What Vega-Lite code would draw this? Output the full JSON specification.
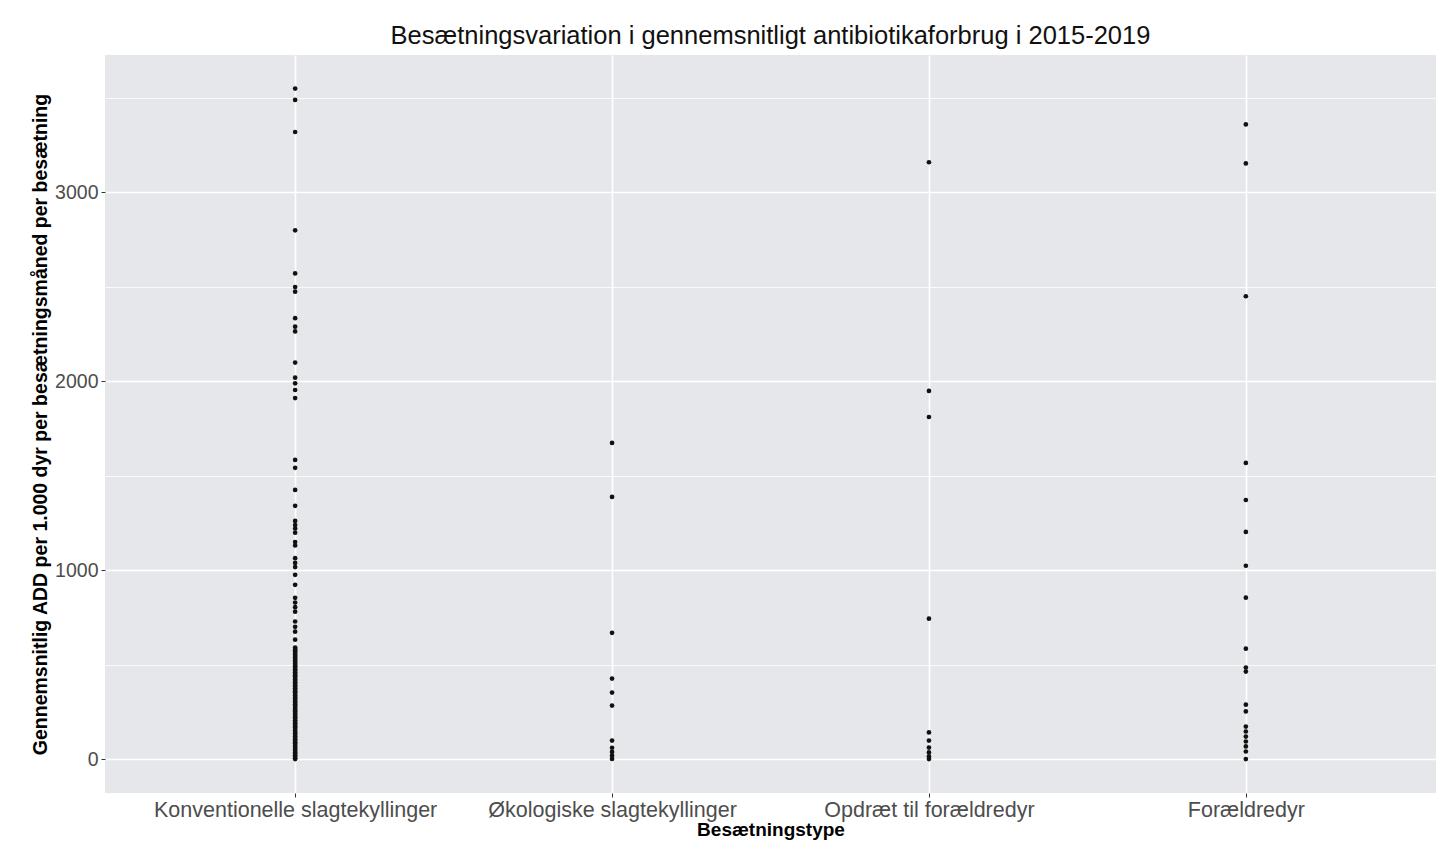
{
  "$schema": "https://vega.github.io/schema/vega-lite/v6.json",
  "autosize": "none",
  "width": 1331,
  "height": 738,
  "padding": {"left": 105, "top": 55, "right": 12, "bottom": 50},
  "background": "white",
  "title": {
    "text": "Besætningsvariation i gennemsnitligt antibiotikaforbrug i 2015-2019",
    "fontSize": 25.5,
    "fontWeight": "normal",
    "font": "Liberation Sans",
    "color": "#111111",
    "anchor": "middle",
    "offset": 6
  },
  "config": {
    "view": {"fill": "#E5E7EB", "stroke": null},
    "font": "Liberation Sans"
  },
  "data": {
    "values": [
      {"type": "Konventionelle slagtekyllinger", "add": 3550},
      {"type": "Konventionelle slagtekyllinger", "add": 3490},
      {"type": "Konventionelle slagtekyllinger", "add": 3320},
      {"type": "Konventionelle slagtekyllinger", "add": 2800},
      {"type": "Konventionelle slagtekyllinger", "add": 2572},
      {"type": "Konventionelle slagtekyllinger", "add": 2500},
      {"type": "Konventionelle slagtekyllinger", "add": 2475},
      {"type": "Konventionelle slagtekyllinger", "add": 2335},
      {"type": "Konventionelle slagtekyllinger", "add": 2290},
      {"type": "Konventionelle slagtekyllinger", "add": 2265},
      {"type": "Konventionelle slagtekyllinger", "add": 2100},
      {"type": "Konventionelle slagtekyllinger", "add": 2020},
      {"type": "Konventionelle slagtekyllinger", "add": 1990},
      {"type": "Konventionelle slagtekyllinger", "add": 1955},
      {"type": "Konventionelle slagtekyllinger", "add": 1912},
      {"type": "Konventionelle slagtekyllinger", "add": 1585},
      {"type": "Konventionelle slagtekyllinger", "add": 1543},
      {"type": "Konventionelle slagtekyllinger", "add": 1426},
      {"type": "Konventionelle slagtekyllinger", "add": 1342},
      {"type": "Konventionelle slagtekyllinger", "add": 1262},
      {"type": "Konventionelle slagtekyllinger", "add": 1240},
      {"type": "Konventionelle slagtekyllinger", "add": 1222},
      {"type": "Konventionelle slagtekyllinger", "add": 1200},
      {"type": "Konventionelle slagtekyllinger", "add": 1150},
      {"type": "Konventionelle slagtekyllinger", "add": 1132},
      {"type": "Konventionelle slagtekyllinger", "add": 1065},
      {"type": "Konventionelle slagtekyllinger", "add": 1040},
      {"type": "Konventionelle slagtekyllinger", "add": 1018},
      {"type": "Konventionelle slagtekyllinger", "add": 977},
      {"type": "Konventionelle slagtekyllinger", "add": 924},
      {"type": "Konventionelle slagtekyllinger", "add": 855},
      {"type": "Konventionelle slagtekyllinger", "add": 830},
      {"type": "Konventionelle slagtekyllinger", "add": 806},
      {"type": "Konventionelle slagtekyllinger", "add": 782},
      {"type": "Konventionelle slagtekyllinger", "add": 730},
      {"type": "Konventionelle slagtekyllinger", "add": 702},
      {"type": "Konventionelle slagtekyllinger", "add": 676},
      {"type": "Konventionelle slagtekyllinger", "add": 634},
      {"type": "Konventionelle slagtekyllinger", "add": 592},
      {"type": "Konventionelle slagtekyllinger", "add": 585},
      {"type": "Konventionelle slagtekyllinger", "add": 578},
      {"type": "Konventionelle slagtekyllinger", "add": 570},
      {"type": "Konventionelle slagtekyllinger", "add": 563},
      {"type": "Konventionelle slagtekyllinger", "add": 555},
      {"type": "Konventionelle slagtekyllinger", "add": 547},
      {"type": "Konventionelle slagtekyllinger", "add": 540},
      {"type": "Konventionelle slagtekyllinger", "add": 531},
      {"type": "Konventionelle slagtekyllinger", "add": 524},
      {"type": "Konventionelle slagtekyllinger", "add": 516},
      {"type": "Konventionelle slagtekyllinger", "add": 508},
      {"type": "Konventionelle slagtekyllinger", "add": 500},
      {"type": "Konventionelle slagtekyllinger", "add": 493},
      {"type": "Konventionelle slagtekyllinger", "add": 485},
      {"type": "Konventionelle slagtekyllinger", "add": 477},
      {"type": "Konventionelle slagtekyllinger", "add": 470},
      {"type": "Konventionelle slagtekyllinger", "add": 462},
      {"type": "Konventionelle slagtekyllinger", "add": 454},
      {"type": "Konventionelle slagtekyllinger", "add": 446},
      {"type": "Konventionelle slagtekyllinger", "add": 439},
      {"type": "Konventionelle slagtekyllinger", "add": 431},
      {"type": "Konventionelle slagtekyllinger", "add": 423},
      {"type": "Konventionelle slagtekyllinger", "add": 416},
      {"type": "Konventionelle slagtekyllinger", "add": 408},
      {"type": "Konventionelle slagtekyllinger", "add": 400},
      {"type": "Konventionelle slagtekyllinger", "add": 392},
      {"type": "Konventionelle slagtekyllinger", "add": 385},
      {"type": "Konventionelle slagtekyllinger", "add": 377},
      {"type": "Konventionelle slagtekyllinger", "add": 369},
      {"type": "Konventionelle slagtekyllinger", "add": 361},
      {"type": "Konventionelle slagtekyllinger", "add": 354},
      {"type": "Konventionelle slagtekyllinger", "add": 346},
      {"type": "Konventionelle slagtekyllinger", "add": 338},
      {"type": "Konventionelle slagtekyllinger", "add": 331},
      {"type": "Konventionelle slagtekyllinger", "add": 323},
      {"type": "Konventionelle slagtekyllinger", "add": 315},
      {"type": "Konventionelle slagtekyllinger", "add": 307},
      {"type": "Konventionelle slagtekyllinger", "add": 300},
      {"type": "Konventionelle slagtekyllinger", "add": 292},
      {"type": "Konventionelle slagtekyllinger", "add": 284},
      {"type": "Konventionelle slagtekyllinger", "add": 277},
      {"type": "Konventionelle slagtekyllinger", "add": 269},
      {"type": "Konventionelle slagtekyllinger", "add": 261},
      {"type": "Konventionelle slagtekyllinger", "add": 253},
      {"type": "Konventionelle slagtekyllinger", "add": 246},
      {"type": "Konventionelle slagtekyllinger", "add": 238},
      {"type": "Konventionelle slagtekyllinger", "add": 230},
      {"type": "Konventionelle slagtekyllinger", "add": 223},
      {"type": "Konventionelle slagtekyllinger", "add": 215},
      {"type": "Konventionelle slagtekyllinger", "add": 207},
      {"type": "Konventionelle slagtekyllinger", "add": 199},
      {"type": "Konventionelle slagtekyllinger", "add": 192},
      {"type": "Konventionelle slagtekyllinger", "add": 184},
      {"type": "Konventionelle slagtekyllinger", "add": 176},
      {"type": "Konventionelle slagtekyllinger", "add": 169},
      {"type": "Konventionelle slagtekyllinger", "add": 161},
      {"type": "Konventionelle slagtekyllinger", "add": 153},
      {"type": "Konventionelle slagtekyllinger", "add": 145},
      {"type": "Konventionelle slagtekyllinger", "add": 138},
      {"type": "Konventionelle slagtekyllinger", "add": 130},
      {"type": "Konventionelle slagtekyllinger", "add": 122},
      {"type": "Konventionelle slagtekyllinger", "add": 115},
      {"type": "Konventionelle slagtekyllinger", "add": 107},
      {"type": "Konventionelle slagtekyllinger", "add": 99},
      {"type": "Konventionelle slagtekyllinger", "add": 91},
      {"type": "Konventionelle slagtekyllinger", "add": 84},
      {"type": "Konventionelle slagtekyllinger", "add": 76},
      {"type": "Konventionelle slagtekyllinger", "add": 68},
      {"type": "Konventionelle slagtekyllinger", "add": 61},
      {"type": "Konventionelle slagtekyllinger", "add": 53},
      {"type": "Konventionelle slagtekyllinger", "add": 45},
      {"type": "Konventionelle slagtekyllinger", "add": 37},
      {"type": "Konventionelle slagtekyllinger", "add": 30},
      {"type": "Konventionelle slagtekyllinger", "add": 22},
      {"type": "Konventionelle slagtekyllinger", "add": 14},
      {"type": "Konventionelle slagtekyllinger", "add": 7},
      {"type": "Konventionelle slagtekyllinger", "add": 2},
      {"type": "Økologiske slagtekyllinger", "add": 1675},
      {"type": "Økologiske slagtekyllinger", "add": 1389},
      {"type": "Økologiske slagtekyllinger", "add": 670},
      {"type": "Økologiske slagtekyllinger", "add": 428},
      {"type": "Økologiske slagtekyllinger", "add": 354},
      {"type": "Økologiske slagtekyllinger", "add": 285},
      {"type": "Økologiske slagtekyllinger", "add": 100},
      {"type": "Økologiske slagtekyllinger", "add": 62},
      {"type": "Økologiske slagtekyllinger", "add": 40},
      {"type": "Økologiske slagtekyllinger", "add": 20},
      {"type": "Økologiske slagtekyllinger", "add": 3},
      {"type": "Opdræt til forældredyr", "add": 3160},
      {"type": "Opdræt til forældredyr", "add": 1950},
      {"type": "Opdræt til forældredyr", "add": 1812},
      {"type": "Opdræt til forældredyr", "add": 745},
      {"type": "Opdræt til forældredyr", "add": 143},
      {"type": "Opdræt til forældredyr", "add": 100},
      {"type": "Opdræt til forældredyr", "add": 63},
      {"type": "Opdræt til forældredyr", "add": 37},
      {"type": "Opdræt til forældredyr", "add": 16},
      {"type": "Opdræt til forældredyr", "add": 2},
      {"type": "Forældredyr", "add": 3360},
      {"type": "Forældredyr", "add": 3154},
      {"type": "Forældredyr", "add": 2451},
      {"type": "Forældredyr", "add": 1569},
      {"type": "Forældredyr", "add": 1373},
      {"type": "Forældredyr", "add": 1204},
      {"type": "Forældredyr", "add": 1025},
      {"type": "Forældredyr", "add": 856},
      {"type": "Forældredyr", "add": 586},
      {"type": "Forældredyr", "add": 486},
      {"type": "Forældredyr", "add": 465},
      {"type": "Forældredyr", "add": 290},
      {"type": "Forældredyr", "add": 254},
      {"type": "Forældredyr", "add": 174},
      {"type": "Forældredyr", "add": 148},
      {"type": "Forældredyr", "add": 121},
      {"type": "Forældredyr", "add": 95},
      {"type": "Forældredyr", "add": 69},
      {"type": "Forældredyr", "add": 42},
      {"type": "Forældredyr", "add": 2}
    ]
  },
  "mark": {"type": "circle", "size": 22, "color": "#111111", "opacity": 1},
  "encoding": {
    "x": {
      "field": "type",
      "type": "nominal",
      "sort": ["Konventionelle slagtekyllinger", "Økologiske slagtekyllinger", "Opdræt til forældredyr", "Forældredyr"],
      "scale": {"type": "point", "padding": 0.6},
      "axis": {
        "title": "Besætningstype",
        "titleFontSize": 19,
        "titleFontWeight": "bold",
        "titleColor": "#000000",
        "titlePadding": 0,
        "labelFontSize": 21.5,
        "labelLimit": 0,
        "labelColor": "#4D4D4D",
        "labelPadding": 2,
        "labelAngle": 0,
        "tickSize": 4,
        "tickColor": "#333333",
        "domain": false,
        "grid": true,
        "gridColor": "#FFFFFF",
        "gridWidth": 1.6
      }
    },
    "y": {
      "field": "add",
      "type": "quantitative",
      "scale": {"domain": [-177.5, 3727.5], "nice": false, "zero": false},
      "axis": {
        "title": "Gennemsnitlig ADD per 1.000 dyr per besætningsmåned per besætning",
        "titleFontSize": 19.5,
        "titleFontWeight": "bold",
        "titleColor": "#000000",
        "titlePadding": 4,
        "values": [0, 500, 1000, 1500, 2000, 2500, 3000, 3500],
        "format": "d",
        "labelExpr": "datum.value % 1000 === 0 ? datum.label : ''",
        "labelFontSize": 19.5,
        "labelColor": "#4D4D4D",
        "labelPadding": 3,
        "tickSize": 4,
        "tickColor": "#333333",
        "tickOpacity": {"condition": {"test": "datum.value % 1000 === 0", "value": 1}, "value": 0},
        "domain": false,
        "grid": true,
        "gridColor": "#FFFFFF",
        "gridWidth": {"condition": {"test": "datum.value % 1000 === 0", "value": 1.6}, "value": 0.8}
      }
    }
  }
}
